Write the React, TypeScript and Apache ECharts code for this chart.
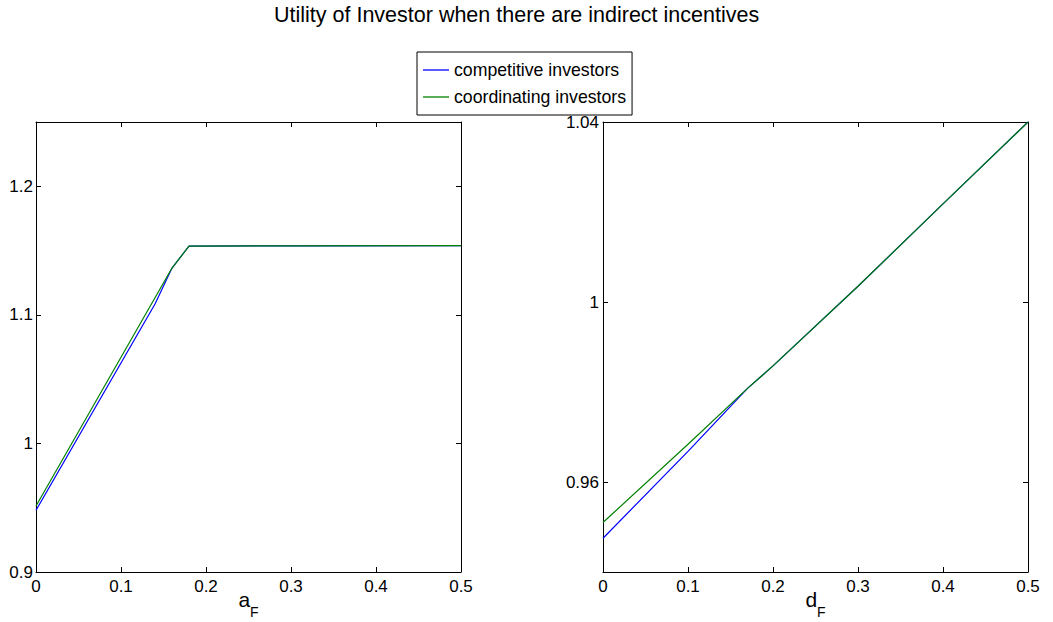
import React, { useEffect, useRef } from "react";
import * as echarts from "echarts";

const TITLE = "Utility of Investor when there are indirect incentives";
const SERIES_NAMES = ["competitive investors", "coordinating investors"];
const COLORS = ["#0000ff", "#008000"];

// Left panel: utility vs a_F
const leftCompX = [0, 0.14, 0.16, 0.18, 0.3, 0.5];
const leftCompY = [0.948, 1.1084, 1.1364, 1.1535, 1.1537, 1.1538];
const leftCoordX = [0, 0.16, 0.18, 0.3, 0.5];
const leftCoordY = [0.9513, 1.1364, 1.1535, 1.1537, 1.1538];

// Right panel: utility vs d_F
const rightCompX = [0, 0.1, 0.17, 0.2, 0.3, 0.4, 0.5];
const rightCompY = [0.9475, 0.9668, 0.9808, 0.9858, 1.0035, 1.0218, 1.04];
const rightCoordX = [0, 0.1, 0.17, 0.2, 0.3, 0.4, 0.5];
const rightCoordY = [0.951, 0.9684, 0.9808, 0.9858, 1.0035, 1.0218, 1.04];

const xTicks = [0, 0.1, 0.2, 0.3, 0.4, 0.5];
const leftYTicks = [0.9, 1, 1.1, 1.2];
const rightYTicks = [0.96, 1, 1.04];

const FONT = "Liberation Sans, Arial, Helvetica, sans-serif";

function zip(xs: number[], ys: number[]) {
  return xs.map((x, i) => [x, ys[i]]);
}

function baseAxis(ticks: number[], min: number, max: number, gridIndex: number, position: string, labels: boolean, margin: number) {
  return {
    type: "value",
    gridIndex,
    position,
    min,
    max,
    axisLine: { show: true, onZero: false, lineStyle: { color: "#000", width: 1 } },
    axisTick: { show: true, inside: true, length: 5, customValues: ticks, lineStyle: { color: "#000", width: 1 } },
    axisLabel: {
      show: labels,
      customValues: ticks,
      color: "#000",
      fontSize: 17,
      fontFamily: FONT,
      margin,
    },
    splitLine: { show: false },
  };
}

function axisName(main: string) {
  return {
    name: `{m|${main}}{s|F}`,
    nameLocation: "middle",
    nameGap: 17,
    nameMoveOverlap: false,
    nameTextStyle: {
      rich: {
        m: { fontSize: 21, lineHeight: 21, fontFamily: FONT, color: "#000", verticalAlign: "top" },
        s: { fontSize: 14, lineHeight: 14, fontFamily: FONT, color: "#000", verticalAlign: "top", padding: [16, 0, 0, 0] },
      },
    },
  };
}

export default function App() {
  const ref = useRef<HTMLDivElement>(null);
  useEffect(() => {
    if (!ref.current) return;
    const chart = echarts.init(ref.current, null, { renderer: "svg" });
    const grids = [
      { left: 36, top: 122, width: 425, height: 450, outerBoundsMode: "none", containLabel: false },
      { left: 603, top: 122, width: 425, height: 450, outerBoundsMode: "none", containLabel: false },
    ];
    const xAxis = [
      { ...baseAxis(xTicks, 0, 0.5, 0, "bottom", true, 6), ...axisName("a") },
      baseAxis(xTicks, 0, 0.5, 0, "top", false, 6),
      { ...baseAxis(xTicks, 0, 0.5, 1, "bottom", true, 6), ...axisName("d") },
      baseAxis(xTicks, 0, 0.5, 1, "top", false, 6),
    ];
    const yAxis = [
      baseAxis(leftYTicks, 0.9, 1.25, 0, "left", true, 3),
      baseAxis(leftYTicks, 0.9, 1.25, 0, "right", false, 3),
      baseAxis(rightYTicks, 0.94, 1.04, 1, "left", true, 4),
      baseAxis(rightYTicks, 0.94, 1.04, 1, "right", false, 4),
    ];
    const mk = (name: string, color: string, xi: number, yi: number, data: number[][]) => ({
      name,
      type: "line",
      xAxisIndex: xi,
      yAxisIndex: yi,
      data,
      symbol: "none",
      showSymbol: false,
      lineStyle: { color, width: 1.2 },
      itemStyle: { color },
      z: 3,
    });
    chart.setOption({
      animation: false,
      backgroundColor: "#fff",
      title: {
        text: TITLE,
        left: 274,
        top: 4,
        padding: 0,
        textStyle: { fontSize: 21.5, fontWeight: "normal", fontFamily: FONT, color: "#000" },
      },
      legend: {
        data: SERIES_NAMES,
        orient: "vertical",
        left: 417,
        top: 52,
        padding: [9, 6, 9, 6],
        icon: "rect",
        itemWidth: 26,
        itemHeight: 1.3,
        itemGap: 9,
        borderColor: "#000",
        borderWidth: 1,
        borderRadius: 0,
        backgroundColor: "#fff",
        textStyle: { fontSize: 17.7, fontFamily: FONT, color: "#000" },
      },
      grid: grids,
      xAxis,
      yAxis,
      series: [
        mk(SERIES_NAMES[0], COLORS[0], 0, 0, zip(leftCompX, leftCompY)),
        mk(SERIES_NAMES[1], COLORS[1], 0, 0, zip(leftCoordX, leftCoordY)),
        mk(SERIES_NAMES[0], COLORS[0], 2, 2, zip(rightCompX, rightCompY)),
        mk(SERIES_NAMES[1], COLORS[1], 2, 2, zip(rightCoordX, rightCoordY)),
      ],
    });
    return () => chart.dispose();
  }, []);
  return <div ref={ref} style={{ position: "absolute", left: 0, top: 0, width: 1053, height: 622 }} />;
}
